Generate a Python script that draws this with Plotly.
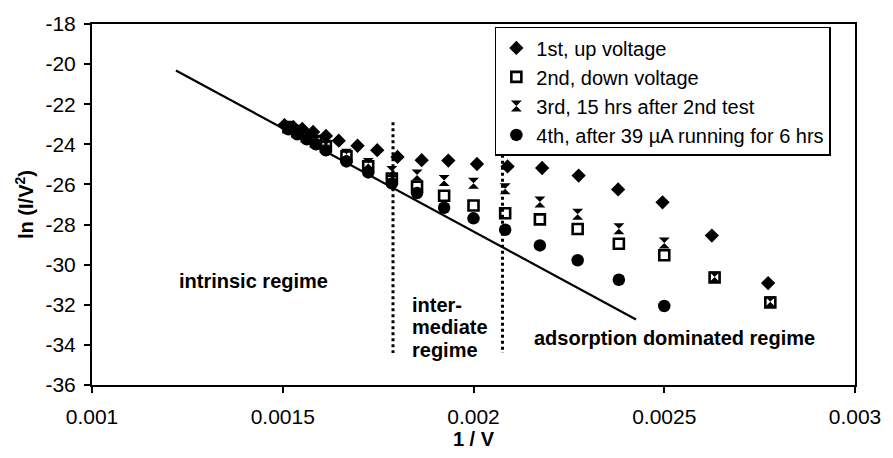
import plotly.graph_objects as go

# ---------------- data ----------------
# 1st, up voltage (diamonds)
x_up = [0.0015045, 0.0015278, 0.0015511, 0.0015796, 0.0016132, 0.0016468, 0.0016960,
        0.0017477, 0.0018008, 0.0018642, 0.0019340, 0.0020091, 0.0020893, 0.0021799,
        0.0022756, 0.0023791, 0.0024955, 0.0026248, 0.0027723]
y_up = [-23.04, -23.14, -23.23, -23.38, -23.58, -23.82, -24.07, -24.29, -24.63, -24.79,
        -24.81, -24.98, -25.10, -25.18, -25.56, -26.25, -26.89, -28.55, -30.92]

# common 1/V positions for series 2-4
x_common = [0.001515, 0.001538, 0.001563, 0.001587, 0.001613, 0.001667, 0.001724, 0.001786,
            0.001852, 0.001923, 0.002000, 0.002083, 0.002174, 0.002273, 0.002381, 0.002500,
            0.002632, 0.002778]
y_down = [-23.15, -23.35, -23.60, -23.85, -24.10, -24.60, -25.10, -25.70, -26.11, -26.56,
          -27.05, -27.44, -27.74, -28.22, -28.96, -29.53, -30.64, -31.89]
y_15hrs = [-23.10, -23.30, -23.55, -23.80, -24.05, -24.50, -24.95, -25.35, -25.53, -25.80,
           -25.94, -26.22, -26.88, -27.49, -28.21, -28.92, -30.62, -31.85]
x_39uA = x_common[:16]
y_39uA = [-23.25, -23.50, -23.75, -24.00, -24.30, -24.85, -25.40, -25.95, -26.43, -27.16,
          -27.69, -28.26, -29.04, -29.78, -30.75, -32.06]

# intrinsic fit line
x_fit = [0.00122, 0.002426]
y_fit = [-20.32, -32.73]

# regime boundaries (dotted lines)
bound_x = [0.001789, 0.002076]
bound_top = [-22.9, -23.92]
bound_bottom = -34.4

series_names = ["1st, up voltage", "2nd, down voltage", "3rd, 15 hrs after 2nd test",
                "4th, after 39 \u00b5A running for 6 hrs"]

x_tickvals = [0.001, 0.0015, 0.002, 0.0025, 0.003]
x_ticktext = ["0.001", "0.0015", "0.002", "0.0025", "0.003"]
y_tickvals = [-36, -34, -32, -30, -28, -26, -24, -22, -20, -18]
y_ticktext = ["-36", "-34", "-32", "-30", "-28", "-26", "-24", "-22", "-20", "-18"]

FONT = "Liberation Sans, Arial, sans-serif"

fig = go.Figure()

fig.add_trace(go.Scatter(x=x_fit, y=y_fit, mode="lines",
                         line=dict(color="black", width=2.2), showlegend=False,
                         hoverinfo="skip"))
for bx, bt in zip(bound_x, bound_top):
    fig.add_trace(go.Scatter(x=[bx, bx], y=[bt, bound_bottom], mode="lines",
                             line=dict(color="black", width=3, dash="dot"),
                             showlegend=False, hoverinfo="skip"))

fig.add_trace(go.Scatter(x=x_up, y=y_up, mode="markers", name=series_names[0],
                         marker=dict(symbol="diamond", size=11, color="black")))
fig.add_trace(go.Scatter(x=x_common, y=y_down, mode="markers", name=series_names[1],
                         marker=dict(symbol="square-open", size=10, color="black",
                                     line=dict(width=2.6, color="black"))))
fig.add_trace(go.Scatter(x=x_common, y=y_15hrs, mode="markers", name=series_names[2],
                         marker=dict(symbol="hourglass", size=11, color="black")))
fig.add_trace(go.Scatter(x=x_39uA, y=y_39uA, mode="markers", name=series_names[3],
                         marker=dict(symbol="circle", size=12.5, color="black")))

ann_font = dict(family=FONT, size=20, color="black")
annotations = [
    dict(x=0.001424, y=-30.82, text="<b>intrinsic regime</b>", xanchor="center"),
    dict(x=0.001833, y=-31.99, text="<b>inter-</b>", xanchor="left"),
    dict(x=0.001833, y=-33.12, text="<b>mediate</b>", xanchor="left"),
    dict(x=0.001833, y=-34.24, text="<b>regime</b>", xanchor="left"),
    dict(x=0.002154, y=-33.66, text="<b>adsorption dominated regime</b>", xanchor="left"),
]
for a in annotations:
    fig.add_annotation(xref="x", yref="y", showarrow=False, yanchor="middle",
                       font=ann_font, **a)

fig.update_layout(
    width=893, height=458, autosize=False,
    margin=dict(l=92, r=31, t=21, b=69),
    paper_bgcolor="white", plot_bgcolor="white",
    font=dict(family=FONT, size=20, color="black"),
    legend=dict(x=0.528, y=0.992, xanchor="left", yanchor="top",
                bgcolor="white", bordercolor="black", borderwidth=1.5,
                font=dict(family=FONT, size=20, color="black"),
                tracegroupgap=0, itemwidth=30),
    showlegend=True,
)
fig.update_xaxes(range=[0.001, 0.003], tickvals=x_tickvals, ticktext=x_ticktext,
                 showgrid=False, zeroline=False, showline=True, linecolor="black",
                 linewidth=2, mirror=True, ticks="outside", ticklen=6, tickwidth=1.5,
                 tickcolor="black", ticklabelstandoff=6,
                 tickfont=dict(family=FONT, size=21),
                 title=dict(text="<b>1 / V</b>", font=dict(family=FONT, size=20), standoff=4))
fig.update_yaxes(range=[-36, -18], tickvals=y_tickvals, ticktext=y_ticktext,
                 showgrid=False, zeroline=False, showline=True, linecolor="black",
                 linewidth=2, mirror=True, ticks="outside", ticklen=6, tickwidth=1.5,
                 tickcolor="black", ticklabelstandoff=4,
                 tickfont=dict(family=FONT, size=21),
                 title=dict(text="<b>ln (I/V<sup>2</sup>)</b>", font=dict(family=FONT, size=20),
                            standoff=6))

fig.write_html("out.html")
